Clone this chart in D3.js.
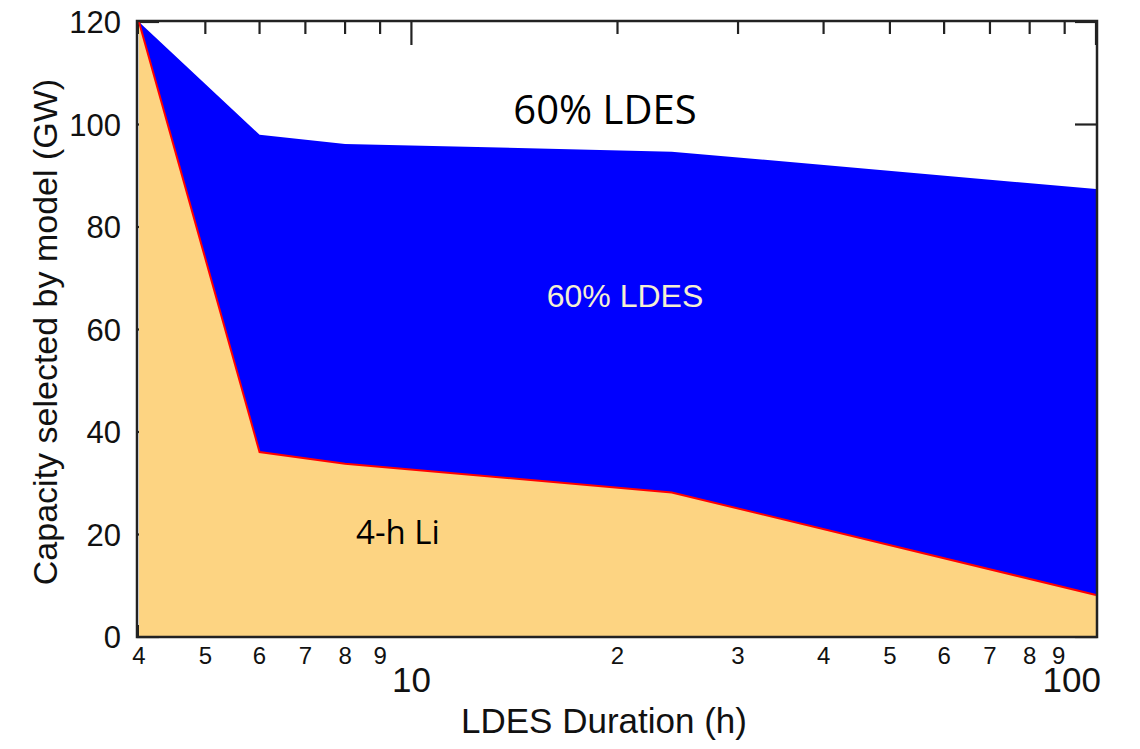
<!DOCTYPE html>
<html>
<head>
<meta charset="utf-8">
<script src="https://cdn.jsdelivr.net/npm/d3@7"></script>
<style>
  body { margin: 0; background: #fff; }
  svg { display: block; }
</style>
</head>
<body>
<svg id="chart"></svg>
<script>
// values
const durations = [4, 6, 8, 24, 100];
const li4h = [120, 36.1, 33.8, 28.2, 8.2];
const ldesTotal = [120, 98, 96.2, 94.7, 87.4];
const yTicks = [0, 20, 40, 60, 80, 100, 120];
const minorTicks = [4, 5, 6, 7, 8, 9, 20, 30, 40, 50, 60, 70, 80, 90];
const majorTicks = [10, 100];

const W = 1140, H = 749;
const svg = d3.select("#chart").attr("width", W).attr("height", H);

const x = d3.scaleLog().domain([4, 100]).range([139, 1096]);
const y = d3.scaleLinear().domain([0, 120]).range([637, 22]);

const data = durations.map((d, i) => ({ d: d, li: li4h[i], tot: ldesTotal[i] }));

const fontAx = "'Liberation Sans', Arial, Helvetica, sans-serif";
const fontNote = "'Open Sans', 'Noto Sans', sans-serif";

// ticks (inward, drawn under the fills)
const ticks = svg.append("g").attr("stroke", "#222").attr("stroke-width", 2.2);
const left = x.range()[0] - 2, right = x.range()[1] + 1;
yTicks.forEach(v => {
  ticks.append("line").attr("x1", left).attr("x2", left + 22).attr("y1", y(v)).attr("y2", y(v));
  ticks.append("line").attr("x1", right).attr("x2", right - 22).attr("y1", y(v)).attr("y2", y(v));
});
minorTicks.forEach(v => {
  ticks.append("line").attr("x1", x(v)).attr("x2", x(v)).attr("y1", y(120)).attr("y2", y(120) + 12);
  ticks.append("line").attr("x1", x(v)).attr("x2", x(v)).attr("y1", y(0)).attr("y2", y(0) - 12);
});
majorTicks.forEach(v => {
  ticks.append("line").attr("x1", x(v)).attr("x2", x(v)).attr("y1", y(120)).attr("y2", y(120) + 23);
  ticks.append("line").attr("x1", x(v)).attr("x2", x(v)).attr("y1", y(0)).attr("y2", y(0) - 23);
});

// areas
const areaLi = d3.area().x(d => x(d.d)).y0(y(0)).y1(d => y(d.li));
const areaLdes = d3.area().x(d => x(d.d)).y0(d => y(d.li)).y1(d => y(d.tot));

svg.append("path").datum(data).attr("d", areaLi).attr("fill", "#fdd482");
svg.append("path").datum(data).attr("d", areaLdes).attr("fill", "#0000ff");
svg.append("path").datum(data)
  .attr("d", d3.line().x(d => x(d.d)).y(d => y(d.li)))
  .attr("fill", "none").attr("stroke", "#ff0000").attr("stroke-width", 2);

// frame
svg.append("rect")
  .attr("x", left).attr("y", y(120) - 1)
  .attr("width", right - left).attr("height", y(0) - y(120) + 1)
  .attr("fill", "none").attr("stroke", "#222").attr("stroke-width", 2.5);

// y tick labels
svg.append("g").selectAll("text").data(yTicks).join("text")
  .attr("x", 121).attr("y", d => y(d)).attr("dy", "0.36em")
  .attr("text-anchor", "end")
  .attr("font-family", fontAx).attr("font-size", 31).attr("fill", "#111")
  .text(d => d);

// x tick labels
svg.append("g").selectAll("text").data(minorTicks).join("text")
  .attr("x", d => x(d) - (d === 90 ? 6 : 0)).attr("y", 664)
  .attr("text-anchor", "middle")
  .attr("font-family", fontAx).attr("font-size", 24).attr("fill", "#111")
  .text(d => d < 10 ? d : d / 10);

svg.append("g").selectAll("text").data(majorTicks).join("text")
  .attr("x", d => d === 100 ? x(d) + 5 : x(d)).attr("y", 692)
  .attr("text-anchor", d => d === 100 ? "end" : "middle")
  .attr("font-family", fontAx).attr("font-size", 35).attr("fill", "#111")
  .text(d => d);

// axis titles
svg.append("text")
  .attr("x", 604).attr("y", 733)
  .attr("text-anchor", "middle")
  .attr("font-family", fontAx).attr("font-size", 35).attr("fill", "#111")
  .text("LDES Duration (h)");

svg.append("text")
  .attr("transform", "translate(57,332) rotate(-90)")
  .attr("text-anchor", "middle")
  .attr("font-family", fontAx).attr("font-size", 34).attr("fill", "#111")
  .text("Capacity selected by model (GW)");

// annotations
svg.append("text")
  .attr("x", 605).attr("y", 124)
  .attr("text-anchor", "middle")
  .attr("font-family", fontNote).attr("font-size", 40).attr("fill", "#000")
  .text("60% LDES");

svg.append("text")
  .attr("x", 625).attr("y", 307)
  .attr("text-anchor", "middle")
  .attr("font-family", fontAx).attr("font-size", 32).attr("fill", "#f4efd2")
  .text("60% LDES");

svg.append("text")
  .attr("x", 398).attr("y", 544)
  .attr("text-anchor", "middle")
  .attr("font-family", fontNote).attr("font-size", 33).attr("fill", "#000")
  .text("4-h Li");
</script>
</body>
</html>
